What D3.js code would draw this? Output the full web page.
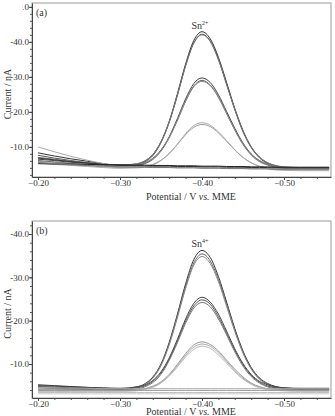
<!DOCTYPE html>
<html>
<head>
<meta charset="utf-8">
<script src="https://cdn.jsdelivr.net/npm/d3@7"></script>
<style>
  body { margin: 0; background: #fff; }
  svg { display: block; font-family: "Liberation Serif", "DejaVu Serif", serif; }
</style>
</head>
<body>
<div id="chart"></div>
<script>
// Potential grid (V vs. MME), shared by every voltammogram
const potentials = [-0.200, -0.220, -0.240, -0.260, -0.280, -0.300, -0.320, -0.330, -0.340, -0.350,
  -0.360, -0.370, -0.380, -0.390, -0.400, -0.410, -0.420, -0.430, -0.440, -0.450,
  -0.460, -0.470, -0.480, -0.490, -0.500, -0.520, -0.540, -0.555];

// Cathodic current magnitudes (nA), panel (a): Sn2+
const currentsA = [
  [8.3,7.4,6.6,5.9,5.2,4.7,5.1,5.9,7.8,11.5,17.3,25.2,33.7,40.4,42.9,40.9,35.6,28.4,21.0,14.7,10.0,7.1,5.4,4.6,4.2,4.0,4.0,4.0],
  [7.6,6.8,6.1,5.5,4.9,4.5,4.9,5.7,7.5,11.2,17.0,24.7,33.2,39.7,42.2,40.3,35.0,27.9,20.6,14.3,9.8,6.9,5.2,4.4,4.0,3.8,3.8,3.8],
  [7.0,6.5,5.9,5.5,5.1,4.8,5.2,6.0,7.8,11.4,17.1,24.8,33.1,39.6,42.0,40.1,34.9,27.8,20.7,14.5,10.0,7.1,5.5,4.7,4.3,4.1,4.1,4.1],
  [6.5,6.1,5.6,5.3,5.0,4.7,4.9,5.4,6.7,9.1,12.9,18.1,23.7,28.1,29.7,28.4,24.9,20.1,15.3,11.1,8.0,6.1,5.0,4.4,4.1,4.0,4.0,4.0],
  [6.1,5.7,5.3,5.0,4.7,4.5,4.7,5.2,6.4,8.8,12.6,17.6,23.1,27.4,29.0,27.7,24.3,19.6,14.8,10.7,7.7,5.8,4.8,4.2,3.9,3.8,3.8,3.8],
  [5.8,5.6,5.3,5.1,4.9,4.8,5.0,5.5,6.7,9.0,12.7,17.6,23.0,27.2,28.7,27.5,24.1,19.5,14.9,10.9,7.9,6.1,5.0,4.5,4.2,4.1,4.1,4.1],
  [5.6,5.2,4.9,4.6,4.3,4.1,4.2,4.4,5.0,6.2,8.1,10.7,13.5,15.6,16.4,15.8,14.0,11.6,9.1,7.0,5.5,4.5,3.9,3.6,3.5,3.4,3.4,3.4],
  [5.4,5.0,4.7,4.4,4.1,3.9,4.0,4.2,4.8,6.1,8.1,10.8,13.8,16.1,16.9,16.2,14.3,11.8,9.2,7.0,5.4,4.4,3.7,3.4,3.3,3.2,3.2,3.2],
  [10.0,8.6,7.3,6.2,5.2,4.4,4.3,4.3,4.2,4.2,4.2,4.1,4.1,4.1,4.0,4.0,4.0,3.9,3.9,3.9,3.8,3.8,3.8,3.7,3.7,3.7,3.7,3.7],
  [6.8,6.3,5.8,5.4,5.0,4.7,4.6,4.6,4.5,4.5,4.5,4.4,4.4,4.4,4.3,4.3,4.3,4.2,4.2,4.2,4.1,4.1,4.1,4.0,4.0,4.0,4.0,4.0],
  [5.2,5.1,5.1,5.0,4.9,4.9,4.8,4.8,4.7,4.7,4.7,4.6,4.6,4.6,4.5,4.5,4.5,4.4,4.4,4.4,4.3,4.3,4.3,4.2,4.2,4.2,4.2,4.2],
  [5.5,5.2,4.9,4.7,4.5,4.3,4.2,4.2,4.1,4.1,4.1,4.0,4.0,4.0,3.9,3.9,3.9,3.8,3.8,3.8,3.7,3.7,3.7,3.6,3.6,3.6,3.6,3.6]
];

// Cathodic current magnitudes (nA), panel (b): Sn4+
const currentsB = [
  [5.2,5.0,4.8,4.6,4.4,4.3,4.7,5.4,7.0,10.0,15.0,21.5,28.5,34.1,36.2,34.6,30.2,24.3,18.2,13.0,9.2,6.8,5.5,4.8,4.5,4.3,4.3,4.3],
  [4.8,4.7,4.5,4.4,4.3,4.2,4.6,5.3,6.9,9.8,14.6,21.0,27.9,33.3,35.4,33.8,29.5,23.7,17.8,12.7,9.0,6.6,5.3,4.7,4.4,4.2,4.2,4.2],
  [4.5,4.4,4.3,4.2,4.2,4.1,4.5,5.2,6.7,9.6,14.4,20.7,27.4,32.8,34.8,33.2,29.0,23.3,17.5,12.5,8.8,6.5,5.2,4.6,4.3,4.1,4.1,4.1],
  [5.0,4.9,4.7,4.6,4.5,4.4,4.7,5.1,6.2,8.2,11.4,15.7,20.4,24.0,25.4,24.3,21.5,17.6,13.5,10.1,7.6,6.0,5.2,4.7,4.5,4.4,4.4,4.4],
  [4.6,4.5,4.4,4.3,4.3,4.2,4.5,4.9,6.0,7.9,11.1,15.3,19.9,23.4,24.8,23.8,20.9,17.1,13.2,9.8,7.4,5.8,4.9,4.5,4.3,4.2,4.2,4.2],
  [4.2,4.2,4.1,4.1,4.0,4.0,4.2,4.7,5.7,7.6,10.8,14.9,19.4,22.9,24.2,23.2,20.4,16.7,12.8,9.5,7.1,5.6,4.7,4.3,4.1,4.0,4.0,4.0],
  [4.0,4.0,4.0,3.9,3.9,3.9,4.0,4.3,4.9,5.9,7.6,9.9,12.4,14.4,15.1,14.5,13.0,10.9,8.8,7.0,5.6,4.8,4.3,4.1,4.0,3.9,3.9,3.9],
  [3.8,3.8,3.8,3.8,3.8,3.8,3.9,4.2,4.7,5.7,7.4,9.6,12.0,13.9,14.6,14.1,12.6,10.6,8.5,6.7,5.5,4.6,4.2,4.0,3.9,3.8,3.8,3.8],
  [3.6,3.6,3.7,3.7,3.7,3.7,3.8,4.1,4.6,5.6,7.2,9.3,11.6,13.4,14.1,13.6,12.1,10.2,8.2,6.5,5.3,4.5,4.1,3.9,3.8,3.7,3.7,3.7],
  [4.6,4.5,4.4,4.4,4.3,4.3,4.3,4.3,4.3,4.3,4.3,4.3,4.3,4.3,4.3,4.3,4.3,4.3,4.3,4.3,4.3,4.3,4.3,4.3,4.3,4.3,4.3,4.3],
  [3.9,3.9,3.9,3.9,3.9,3.9,3.9,3.9,3.9,3.9,3.9,3.9,3.9,3.9,3.9,3.9,3.9,3.9,3.9,3.9,3.9,3.9,3.9,3.9,3.9,3.9,3.9,3.9],
  [3.4,3.4,3.4,3.4,3.4,3.4,3.4,3.4,3.4,3.4,3.4,3.4,3.4,3.4,3.4,3.4,3.4,3.4,3.4,3.4,3.4,3.4,3.4,3.4,3.4,3.4,3.4,3.4],
  [3.1,3.1,3.1,3.1,3.1,3.1,3.1,3.1,3.1,3.1,3.1,3.1,3.1,3.1,3.1,3.1,3.1,3.1,3.1,3.1,3.1,3.1,3.1,3.1,3.1,3.1,3.1,3.1]
];

// Line greys, one per curve
const strokesA = ["#333", "#555", "#777", "#444", "#666", "#888", "#999", "#aaa", "#aaa", "#333", "#222", "#777"];
const strokesB = ["#333", "#666", "#888", "#444", "#555", "#777", "#999", "#aaa", "#bbb", "#aaa", "#999", "#bbb", "#ccc"];

// Tick values
const xTicks = [-0.20, -0.30, -0.40, -0.50];
const yTicksA = [10, 20, 30, 40, 50];
const yTicksB = [10, 20, 30, 40];

const W = 335, H = 416;
const left = 32, right = 331;
const serif = "Liberation Serif";

const svg = d3.select("#chart").append("svg")
  .attr("width", W)
  .attr("height", H);

svg.append("rect").attr("width", W).attr("height", H).attr("fill", "#fff");

const x = d3.scaleLinear()
  .domain([-0.1927, -0.5573])
  .range([left, right]);

function drawPanel(p, idx) {
  const y = d3.scaleLinear()
    .domain([p.yMin, p.yMax])
    .range([p.bottom, p.top]);

  const g = svg.append("g");

  // frame
  g.append("rect")
    .attr("x", left).attr("y", p.top)
    .attr("width", right - left).attr("height", p.bottom - p.top)
    .attr("fill", "none").attr("stroke", "#999").attr("stroke-width", 1);

  // curves
  g.append("clipPath").attr("id", "clip" + idx)
    .append("rect")
    .attr("x", left).attr("y", p.top)
    .attr("width", right - left).attr("height", p.bottom - p.top);

  const line = d3.line()
    .x((d, i) => x(potentials[i]))
    .y(d => y(d))
    .curve(d3.curveMonotoneX);

  g.append("g").attr("clip-path", `url(#clip${idx})`)
    .selectAll("path")
    .data(p.curves)
    .join("path")
    .attr("d", line)
    .attr("fill", "none")
    .attr("stroke", (d, i) => p.strokes[i])
    .attr("stroke-width", 1);

  // y axis, minor then major
  const yMinor = d3.range(2, p.yMax, 2).filter(v => v > p.yMin);
  g.append("g")
    .attr("transform", `translate(${left},0)`)
    .call(d3.axisLeft(y).tickValues(yMinor).tickSize(2).tickSizeOuter(0).tickFormat(""))
    .call(a => a.select(".domain").remove())
    .call(a => a.selectAll("line").attr("stroke", "#555"));

  g.append("g")
    .attr("transform", `translate(${left},0)`)
    .call(d3.axisLeft(y).tickValues(p.yTicks).tickSize(3).tickSizeOuter(0).tickPadding(0)
      .tickFormat(d => "-" + d3.format(".1f")(d)))
    .call(a => a.select(".domain").attr("stroke", "#444"))
    .call(a => a.selectAll("line").attr("stroke", "#444"))
    .call(a => a.selectAll("text").attr("fill", "#333")
      .attr("font-family", serif).style("font-family", serif).style("font-size", "9px"));

  // x axis, minor then major
  const xMinor = d3.range(10, 28).map(i => -i * 0.02);
  g.append("g")
    .attr("transform", `translate(0,${p.bottom})`)
    .call(d3.axisBottom(x).tickValues(xMinor).tickSize(2).tickSizeOuter(0).tickFormat(""))
    .call(a => a.select(".domain").remove())
    .call(a => a.selectAll("line").attr("stroke", "#555"));

  g.append("g")
    .attr("transform", `translate(0,${p.bottom})`)
    .call(d3.axisBottom(x).tickValues(xTicks).tickSize(3).tickSizeOuter(0).tickPadding(0)
      .tickFormat(d3.format(".2f")))
    .call(a => a.select(".domain").attr("stroke", "#444"))
    .call(a => a.selectAll("line").attr("stroke", "#444"))
    .call(a => a.selectAll("text").attr("fill", "#333")
      .attr("font-family", serif).style("font-family", serif).style("font-size", "9px"));

  // axis titles
  g.append("text")
    .attr("transform", `translate(11,${(p.top + p.bottom) / 2 + 4}) rotate(-90)`)
    .attr("text-anchor", "middle")
    .attr("fill", "#333")
    .style("font-family", serif)
    .style("font-size", "10px")
    .text("Current / nA");

  const xt = g.append("text")
    .attr("x", 191).attr("y", p.titleY)
    .attr("text-anchor", "middle")
    .attr("fill", "#333")
    .style("font-family", serif)
    .style("font-size", "10px");
  xt.append("tspan").text("Potential / V ");
  xt.append("tspan").style("font-style", "italic").text("vs.");
  xt.append("tspan").text(" MME");

  // panel tag and ion label
  g.append("text")
    .attr("x", 36).attr("y", p.top + 13)
    .attr("fill", "#333")
    .style("font-family", serif)
    .style("font-size", "10px")
    .text(p.tag);

  const ion = g.append("text")
    .attr("x", 200).attr("y", p.ionY)
    .attr("text-anchor", "middle")
    .attr("fill", "#333")
    .style("font-family", serif)
    .style("font-size", "10px");
  ion.append("tspan").text("Sn");
  ion.append("tspan").attr("dy", -4).style("font-size", "6px").text(p.ion);
}

const panels = [
  { tag: "(a)", ion: "2+", top: 3, bottom: 177, yMin: 1.4, yMax: 51.1,
    curves: currentsA, strokes: strokesA, yTicks: yTicksA, titleY: 200, ionY: 29 },
  { tag: "(b)", ion: "4+", top: 221, bottom: 398, yMin: 2.15, yMax: 43.0,
    curves: currentsB, strokes: strokesB, yTicks: yTicksB, titleY: 415, ionY: 247 }
];

panels.forEach(drawPanel);

// the source figure is cropped at the top-left corner
svg.append("rect").attr("x", 0).attr("y", 0).attr("width", 22).attr("height", 11).attr("fill", "#fff");
</script>
</body>
</html>
